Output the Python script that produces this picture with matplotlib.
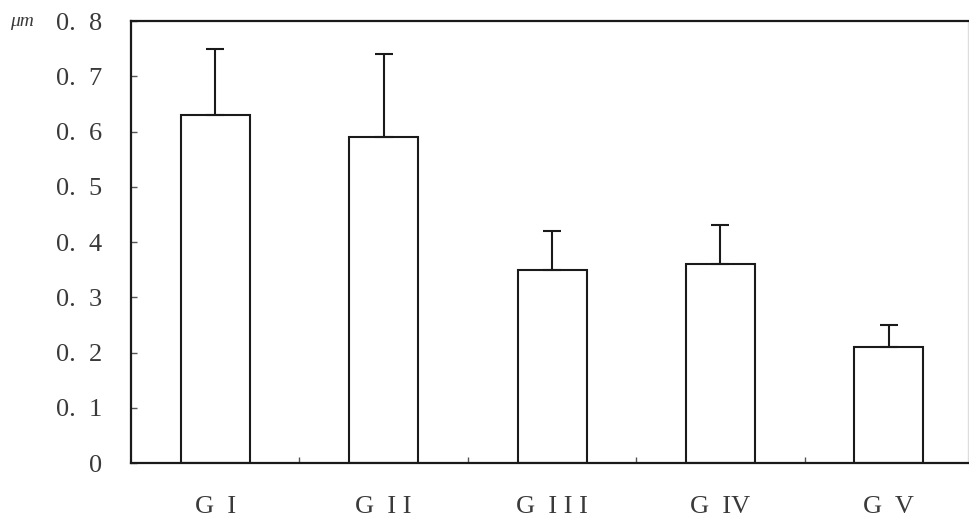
import numpy as np
import matplotlib.pyplot as plt

# Данные
groups = ['G  I', 'G  I I', 'G  I I I', 'G  IV', 'G  V']
means = [0.63, 0.59, 0.35, 0.36, 0.21]
errors = [0.12, 0.15, 0.07, 0.07, 0.04]
y_ticks = [0, 0.1, 0.2, 0.3, 0.4, 0.5, 0.6, 0.7, 0.8]
y_tick_labels = ['0', '0.  1', '0.  2', '0.  3', '0.  4', '0.  5', '0.  6', '0.  7', '0.  8']

plt.rcParams['font.family'] = ['Liberation Serif', 'DejaVu Serif']

fig = plt.figure(figsize=(9.7, 5.23), dpi=100)
ax = fig.add_axes([0.135, 0.1147, 0.863, 0.845])

x = np.arange(len(groups))
ax.bar(x, means, width=0.41, color='white', edgecolor='#1a1a1a', linewidth=1.5,
       yerr=[np.zeros(len(errors)), errors], capsize=6.8,
       error_kw=dict(ecolor='#1a1a1a', elinewidth=1.5, capthick=1.5))

ax.set_xlim(-0.5, 4.47)
ax.set_ylim(0, 0.8)

ax.set_yticks(y_ticks)
ax.set_yticklabels(y_tick_labels)
ax.set_xticks(x)
ax.set_xticklabels(groups)
ax.set_xticks(x[:-1] + 0.5, minor=True)

ax.tick_params(axis='y', direction='in', length=4, width=1, pad=21,
               labelsize=19, labelcolor='#3a3a3a', color='#555555')
ax.tick_params(axis='x', which='major', length=0, pad=24,
               labelsize=19, labelcolor='#3a3a3a')
ax.tick_params(axis='x', which='minor', direction='in', length=4, width=1, color='#555555')

for side in ['left', 'bottom', 'top']:
    ax.spines[side].set_linewidth(1.6)
    ax.spines[side].set_color('#1a1a1a')
ax.spines['right'].set_linewidth(1.0)
ax.spines['right'].set_color('#dddddd')

fig.text(0.01, 0.958, 'μm', fontsize=14, style='italic', color='#3a3a3a', va='center')

fig.savefig('out.png', dpi=100)
